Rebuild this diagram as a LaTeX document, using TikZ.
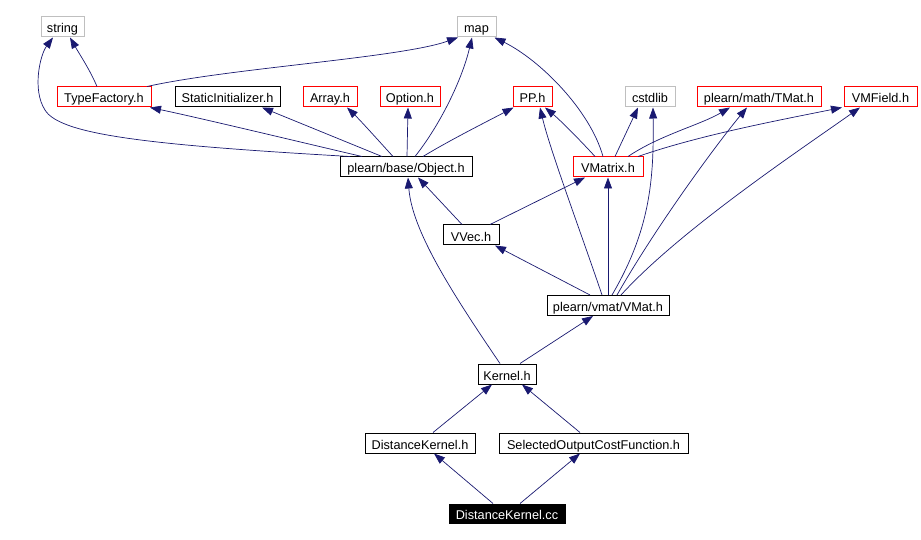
\documentclass[tikz,border=0pt]{standalone}
\usepackage{fontspec}
\setmainfont{Liberation Sans}
\usetikzlibrary{arrows.meta}
\definecolor{edgeblue}{HTML}{191970}
\definecolor{boxred}{HTML}{FF0000}
\definecolor{boxgray}{HTML}{BFBFBF}
\tikzset{
  fbox/.style={draw, line width=1pt, minimum height=20pt, inner xsep=2pt, inner ysep=0pt,
    text height=12pt, text depth=0pt, font=\fontsize{12.7}{14}\selectfont, fill=white},
  redbox/.style={fbox, draw=boxred},
  graybox/.style={fbox, draw=boxgray},
  blackbox/.style={fbox, draw=black},
  rootbox/.style={fbox, draw=black, fill=black, text=white},
  dep/.style={draw=edgeblue, line width=0.7pt, -{Triangle[length=11pt,width=8pt]}, fill=none}
}
\begin{document}
\begin{tikzpicture}[x=1pt,y=-1pt]
\useasboundingbox (0,0) rectangle (921,540);
% nodes
\node[graybox, minimum width=43pt] (string) at (62.5,27) {string};
\node[graybox, minimum width=39pt] (map) at (476.5,27) {map};
\node[redbox, minimum width=94pt] (tf) at (104,97) {TypeFactory.h};
\node[blackbox, minimum width=105pt] (si) at (227.5,97) {StaticInitializer.h};
\node[redbox, minimum width=54pt] (arr) at (330,97) {Array.h};
\node[redbox, minimum width=60pt] (opt) at (410,97) {Option.h};
\node[redbox, minimum width=39pt] (pp) at (532.5,97) {PP.h};
\node[graybox, minimum width=50pt] (cstd) at (650,97) {cstdlib};
\node[redbox, minimum width=124pt] (tmat) at (759,97) {plearn/math/TMat.h};
\node[redbox, minimum width=73pt] (vmf) at (880.5,97) {VMField.h};
\node[blackbox, minimum width=132pt] (obj) at (406,167) {plearn/base/Object.h};
\node[redbox, minimum width=70pt] (vmx) at (608,167) {VMatrix.h};
\node[blackbox, minimum width=56pt] (vvec) at (471,235) {VVec.h};
\node[blackbox, minimum width=122pt] (vmat) at (608,305.5) {plearn/vmat/VMat.h};
\node[blackbox, minimum width=58pt] (kern) at (507,374) {Kernel.h};
\node[blackbox, minimum width=110pt] (dkh) at (420,443) {DistanceKernel.h};
\node[blackbox, minimum width=189pt] (socf) at (593.5,443) {SelectedOutputCostFunction.h};
\node[rootbox, minimum width=116pt, minimum height=19pt] (dkcc) at (507,513.5) {DistanceKernel.cc};
% edges
\draw[dep] ([xshift=-7pt]tf.north) .. controls (90,70) and (80,55) .. ([xshift=7.5pt]string.south);
\draw[dep] ([xshift=-56pt]obj.north) .. controls (150,145) and (60,135) .. (45,110) .. controls (32,90) and (40,55) .. ([xshift=-9.5pt]string.south);
\draw[dep] ([xshift=43pt]tf.north) .. controls (230,68) and (400,58) .. ([xshift=-18.5pt]map.south);
\draw[dep] ([xshift=-44pt]obj.north) .. controls (300,142) and (200,118) .. ([xshift=46pt]tf.south);
\draw[dep] ([xshift=-24pt]obj.north) -- ([xshift=34.5pt]si.south);
\draw[dep] ([xshift=-13pt]obj.north) .. controls (378,140) and (360,120) .. ([xshift=17pt]arr.south);
\draw[dep] ([xshift=1pt]obj.north) -- ([xshift=-2pt]opt.south);
\draw[dep] ([xshift=9pt]obj.north) .. controls (440,125) and (462,80) .. ([xshift=-4.5pt]map.south);
\draw[dep] ([xshift=17pt]obj.north) .. controls (450,140) and (490,120) .. ([xshift=-19pt]pp.south);
\draw[dep] ([xshift=-5pt]vmx.north) .. controls (590,110) and (540,60) .. ([xshift=18pt]map.south);
\draw[dep] ([xshift=-13pt]vmx.north) .. controls (580,140) and (560,120) .. ([xshift=12.5pt]pp.south);
\draw[dep] ([xshift=7pt]vmx.north) -- ([xshift=-12pt]cstd.south);
\draw[dep] ([xshift=20pt]vmx.north) .. controls (660,135) and (700,125) .. ([xshift=-29pt]tmat.south);
\draw[dep] ([xshift=30pt]vmx.north) .. controls (700,135) and (780,120) .. ([xshift=-38.5pt]vmf.south);
\draw[dep] ([xshift=-9pt]vvec.north) -- ([xshift=12pt]obj.south);
\draw[dep] ([xshift=19pt]vvec.north) -- ([xshift=-23pt]vmx.south);
\draw[dep] ([xshift=-7pt]kern.north) .. controls (450,290) and (412,230) .. ([xshift=2pt]obj.south);
\draw[dep] ([xshift=-6pt]vmat.north) .. controls (580,230) and (550,150) .. ([xshift=7.5pt]pp.south);
\draw[dep] (vmat.north) -- (vmx.south);
\draw[dep] ([xshift=4pt]vmat.north) .. controls (650,230) and (654,180) .. ([xshift=3pt]cstd.south);
\draw[dep] ([xshift=9pt]vmat.north) .. controls (660,220) and (720,140) .. ([xshift=-12pt]tmat.south);
\draw[dep] ([xshift=13pt]vmat.north) .. controls (680,230) and (800,150) .. ([xshift=-20.5pt]vmf.south);
\draw[dep] ([xshift=-18pt]vmat.north) -- ([xshift=24pt]vvec.south);
\draw[dep] ([xshift=13pt]kern.north) -- ([xshift=-15pt]vmat.south);
\draw[dep] ([xshift=13pt]dkh.north) -- ([xshift=-15pt]kern.south);
\draw[dep] ([xshift=-13.5pt]socf.north) -- ([xshift=15pt]kern.south);
\draw[dep] ([xshift=-14pt]dkcc.north) -- ([xshift=14pt]dkh.south);
\draw[dep] ([xshift=13pt]dkcc.north) -- ([xshift=-13.5pt]socf.south);
\end{tikzpicture}
\end{document}
